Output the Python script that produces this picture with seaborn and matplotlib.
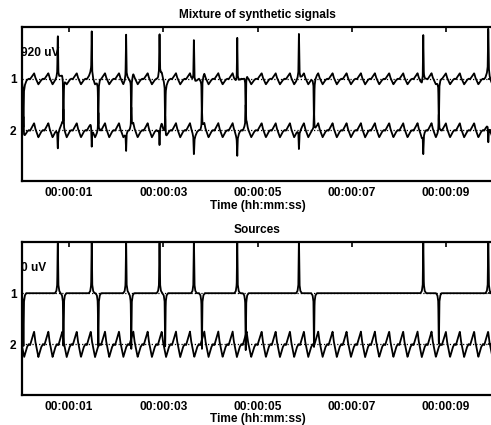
import numpy as np
import matplotlib
import matplotlib.pyplot as plt
import seaborn as sns

matplotlib.use('Agg')

# Source 1: spike train (times in s, amplitudes in source units)
up_times = [0.76, 1.48, 2.21, 2.92, 3.65, 4.57, 5.88, 8.52, 9.90]
up_amps = [58, 56, 58, 58, 58, 56, 58, 58, 60]
down_times = [0.03, 0.88, 1.62, 2.32, 3.04, 3.82, 4.75, 6.20, 8.85]
down_amps = [-58, -57, -57, -57, -57, -57, -57, -57, -57]
# spike shape: offset from spike time (s) and fraction of amplitude
spike_dt = [-0.06, -0.03, -0.012, 0.0, 0.012, 0.03, 0.06]
spike_frac = [0.0, 0.04, 0.15, 1.0, 0.15, 0.04, 0.0]

# Source 2: sawtooth-like wave, peak times (s)
saw_peaks = [-0.045, 0.257, 0.560, 0.857, 1.163, 1.460, 1.763, 2.060, 2.364,
             2.669, 2.967, 3.270, 3.567, 3.871, 4.168, 4.473, 4.770, 5.089,
             5.386, 5.689, 5.986, 6.290, 6.595, 6.892, 7.196, 7.493, 7.796,
             8.093, 8.399, 8.696, 8.999, 9.296, 9.600, 9.897, 10.20]
# one cycle, from a peak to the next one (phase, level)
saw_phase = [0.0, 0.08, 0.30, 0.50, 0.62, 0.72, 1.0]
saw_level = [12.6, 3.0, -13.0, -3.0, 0.0, -1.0, 12.6]

# mixing matrix (uV per source unit) for the mixture panel
mixing = [[15.0, 7.8],
          [-6.3, 9.9]]

tick_pos = [1, 3, 5, 7, 9]
tick_labels = ['00:00:01', '00:00:03', '00:00:05', '00:00:07', '00:00:09']
channel_labels = ['1', '2']
panel_titles = ['Mixture of synthetic signals', 'Sources']
panel_spacing = [920, 51]
scale_texts = ['920 uV', '0 uV']

# build the signals
t = np.arange(0, 10.0, 1 / 256)

saw_x, saw_y = [], []
for p0, p1 in zip(saw_peaks[:-1], saw_peaks[1:]):
    for ph, v in zip(saw_phase[:-1], saw_level[:-1]):
        saw_x.append(p0 + ph * (p1 - p0))
        saw_y.append(v)
saw_x.append(saw_peaks[-1])
saw_y.append(saw_level[-1])
src2 = np.interp(t, saw_x, saw_y)

src1 = np.zeros_like(t)
for tt, a in zip(up_times + down_times, up_amps + down_amps):
    src1 += np.interp(t, tt + np.array(spike_dt), a * np.array(spike_frac),
                      left=0, right=0)

sources = np.vstack([src1, src2])
mixture = np.array(mixing) @ sources

sns.set_style('white')
plt.rcParams['font.family'] = ['Liberation Sans', 'DejaVu Sans']
plt.rcParams['font.weight'] = 'bold'
plt.rcParams['text.color'] = 'k'
plt.rcParams['axes.labelcolor'] = 'k'
plt.rcParams['xtick.color'] = 'k'
plt.rcParams['ytick.color'] = 'k'

fs = 8.6
fig = plt.figure(figsize=(4.91, 4.25), dpi=100)
ax_top = fig.add_axes([22 / 491, 1 - 181.5 / 425, 471 / 491, 154.2 / 425])
ax_bot = fig.add_axes([22 / 491, 1 - 395 / 425, 471 / 491, 152.7 / 425])

for ax, data, title, sp, scale in zip([ax_top, ax_bot], [mixture, sources],
                                      panel_titles, panel_spacing, scale_texts):
    offsets = [2 * sp, sp]
    for off in offsets:
        ax.axhline(off, color='k', ls=':', lw=0.9, zorder=1)
    for sig, off in zip(data, offsets):
        sns.lineplot(x=t, y=sig + off, ax=ax, color='k', lw=1.3,
                     estimator=None, sort=False, zorder=2)
    ax.set_xlim(0, 10)
    ax.set_ylim(0, 3 * sp)
    ax.set_xticks(tick_pos)
    ax.set_xticklabels(tick_labels)
    ax.set_yticks(offsets)
    ax.set_yticklabels(channel_labels)
    ax.tick_params(direction='in', top=True, right=True, length=3.5,
                   width=1.2, labelsize=fs, pad=4, colors='k')
    for lab in ax.get_xticklabels() + ax.get_yticklabels():
        lab.set_fontweight('bold')
    for s in ax.spines.values():
        s.set_linewidth(1.6)
        s.set_color('k')
    ax.set_title(title, fontsize=fs, fontweight='bold', pad=6.5, color='k')
    ax.set_xlabel('Time (hh:mm:ss)', fontsize=fs, fontweight='bold',
                  labelpad=0.5, color='k')
    ax.set_ylabel('')
    ax.text(-0.02, 2.5 * sp, scale, fontsize=fs, fontweight='bold',
            ha='left', va='center', clip_on=True, color='k')

fig.savefig('out.png', dpi=100)
plt.close(fig)
